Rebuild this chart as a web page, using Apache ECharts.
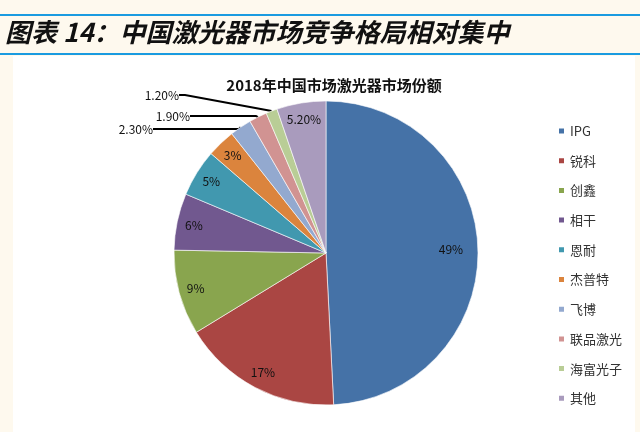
<!DOCTYPE html>
<html>
<head>
<meta charset="utf-8">
<script src="https://cdn.jsdelivr.net/npm/echarts@6/dist/echarts.min.js"></script>
<style>
  html, body { margin: 0; padding: 0; background: #fef9ee; }
  #chart { width: 640px; height: 432px; }
</style>
</head>
<body>
<div id="chart"></div>
<script>
// 2018年中国激光器市场份额
const companies = ['IPG', '锐科', '创鑫', '相干', '恩耐', '杰普特', '飞博', '联品激光', '海富光子', '其他']
const shares = [49, 17, 9, 6, 5, 3, 2.3, 1.9, 1.2, 5.2]
const colors = ['#4572A7', '#AA4643', '#89A54E', '#71588F', '#4198AF', '#DB843D', '#93A9CF', '#D19392', '#B9CD96', '#A99BBD']
// 小扇区标签放在饼图外面
const outsideNames = ['飞博', '联品激光', '海富光子']

const font = '"Noto Sans CJK SC", "Noto Sans", sans-serif'
const fmt = (v) => (Number.isInteger(v) ? v + '%' : v.toFixed(2) + '%')

// 外部标签的位置（标签右端）
const outsideLabelPos = {
  '飞博': { x: 153, y: 129, len: 86 },
  '联品激光': { x: 190, y: 116, len: 66 },
  '海富光子': { x: 179, y: 95, len: 6 }
}

const chartDom = document.getElementById('chart')
const myChart = echarts.init(chartDom)

const mainData = companies.map((name, i) => {
  const item = { name, value: shares[i], itemStyle: { color: colors[i] } }
  if (outsideNames.includes(name)) {
    item.label = { show: true, position: 'outside' }
    item.labelLine = { show: true, length: 10, length2: outsideLabelPos[name].len }
  }
  return item
})
const innerData = companies.map((name, i) => ({
  name,
  value: shares[i],
  label: { show: !outsideNames.includes(name) }
}))

const option = {
  backgroundColor: '#fef9ee',
  animation: false,
  graphic: [
    { type: 'rect', shape: { x: 13, y: 56, width: 622, height: 376 }, style: { fill: '#ffffff' }, z: -10 },
    { type: 'rect', shape: { x: 0, y: 14, width: 640, height: 2 }, style: { fill: '#1a9be0' } },
    { type: 'rect', shape: { x: 0, y: 53, width: 640, height: 2 }, style: { fill: '#1a9be0' } },
    {
      type: 'text', left: 5, top: 19,
      style: {
        text: '图表 14：中国激光器市场竞争格局相对集中',
        fontSize: 26, fontWeight: 'bold', fontStyle: 'italic',
        fontFamily: font, fill: '#111'
      }
    }
  ],
  title: {
    text: '2018年中国市场激光器市场份额',
    left: 329, top: 73, textAlign: 'center',
    textStyle: { fontSize: 15, fontWeight: 'bold', color: '#111', fontFamily: font }
  },
  legend: {
    orient: 'vertical',
    left: 557, top: 124,
    padding: 0,
    data: companies,
    icon: 'rect',
    itemWidth: 7, itemHeight: 7, itemGap: 15.7,
    textStyle: { fontSize: 13, color: '#333', fontFamily: font, lineHeight: 14 }
  },
  series: [
    {
      type: 'pie',
      center: [326, 253],
      radius: 152,
      startAngle: 90,
      clockwise: true,
      silent: true,
      data: mainData,
      itemStyle: { borderColor: '#fff', borderWidth: 0.6 },
      label: {
        show: false,
        formatter: (p) => fmt(p.value),
        color: '#111', fontSize: 12, fontFamily: font
      },
      labelLine: { show: false, lineStyle: { color: '#000', width: 2 } },
      labelLayout: (p) => {
        const pos = outsideLabelPos[companies[p.dataIndex]]
        if (!pos) return {}
        return { x: pos.x, y: pos.y, align: 'right', verticalAlign: 'middle' }
      }
    },
    {
      // 透明的环形，只用来放扇区内的数字标签
      type: 'pie',
      center: [326, 253],
      radius: [112, 152],
      startAngle: 90,
      clockwise: true,
      silent: true,
      data: innerData,
      itemStyle: { color: 'rgba(0,0,0,0)' },
      label: {
        position: 'inside',
        formatter: (p) => fmt(p.value),
        color: '#111', fontSize: 12, fontFamily: font
      },
      labelLine: { show: false },
      // IPG 的标签在参考图中更靠里一些
      labelLayout: (p) => (p.dataIndex === 0 ? { dx: -10 } : {})
    }
  ]
}

myChart.setOption(option)
</script>
</body>
</html>
